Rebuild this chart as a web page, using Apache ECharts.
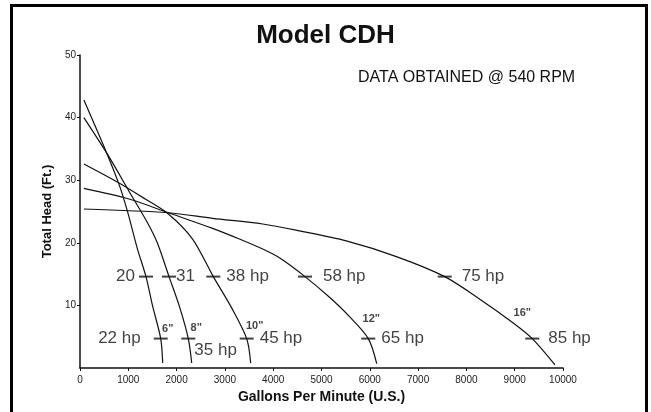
<!DOCTYPE html>
<html>
<head>
<meta charset="utf-8">
<script src="https://cdn.jsdelivr.net/npm/echarts@6/dist/echarts.min.js"></script>
<style>
  html, body { margin: 0; padding: 0; background: #fff; }
  #chart { width: 651px; height: 412px; }
</style>
</head>
<body>
<div id="chart"></div>
<script>
// Impeller sizes, one head/flow curve each
const impellers = ['6"', '8"', '10"', '12"', '16"'];

const flow6  = [80, 560, 810, 980, 1190, 1366, 1500, 1671, 1712];
const head6  = [42.8, 34.2, 29.3, 25.1, 19.0, 14.6, 10.0, 4.7, 0.8];

const flow8  = [80, 580, 1017, 1397, 1600, 1843, 2060, 2242, 2313];
const head8  = [40.0, 34.0, 28.2, 23.2, 20.0, 14.6, 9.8, 4.7, 0.8];

const flow10 = [80, 800, 1350, 1830, 2330, 2760, 3140, 3451, 3534];
const head10 = [32.6, 29.6, 27.0, 24.6, 20.6, 14.6, 9.6, 4.7, 0.8];

const flow12 = [80, 1017, 1830, 2745, 3300, 3782, 4129, 4658, 5166, 5581, 5969, 6143];
const head12 = [28.7, 27.0, 24.8, 22.3, 20.6, 19.0, 17.6, 14.6, 11.3, 8.2, 4.7, 0.7];

const flow16 = [80, 1830, 2745, 3782, 4544, 5512, 6550, 7551, 8278, 8970, 9364, 9834];
const head16 = [25.4, 24.8, 23.9, 23.0, 21.9, 20.3, 17.8, 14.6, 11.0, 7.2, 4.7, 0.5];

// Power marks on each curve
const upperHead = 14.6;
const upperFlow = [1366, 1843, 2760, 4658, 7551];
const upperPower = ['20', '31', '38 hp', '58 hp', '75 hp'];

const lowerHead = 4.7;
const lowerFlow = [1671, 2242, 3451, 5969, 9364];
const lowerPower = ['22 hp', '35 hp', '45 hp', '65 hp', '85 hp'];

// Axes
const flowMin = 0, flowMax = 10000, flowStep = 1000;
const headMin = 0, headMax = 50, headStep = 10;

const FONT = '"Liberation Sans", Arial, Helvetica, sans-serif';

// Label placement next to each power mark
const upperLabelPos = [
  { position: 'left', distance: 4 },
  { position: 'right', distance: 0 },
  { position: 'right', distance: 6 },
  { position: 'right', distance: 11 },
  { position: 'right', distance: 10 }
];
const lowerLabelPos = [
  { position: 'left', distance: 13 },
  { position: 'right', distance: 0, offset: [-1, 12] },
  { position: 'right', distance: 6 },
  { position: 'right', distance: 6 },
  { position: 'right', distance: 9 }
];
const sizeLabelOffset = [[7, -10], [8, -11], [8, -13], [3, -20], [-10, -26]];

const curves = [
  [flow6, head6], [flow8, head8], [flow10, head10], [flow12, head12], [flow16, head16]
];

const lineSeries = curves.map(([f, h], i) => ({
  name: impellers[i],
  type: 'line',
  data: f.map((x, k) => [x, h[k]]),
  smooth: 0.3,
  showSymbol: false,
  silent: true,
  lineStyle: { color: '#111', width: 1.2 },
  z: 3
}));

const hpLabel = {
  show: true,
  color: '#111',
  fontFamily: FONT,
  fontSize: 17,
  verticalAlign: 'middle'
};

const markSeries = (flows, head, texts, placement) => ({
  type: 'scatter',
  symbol: 'rect',
  symbolSize: [14, 2],
  itemStyle: { color: '#111' },
  silent: true,
  z: 4,
  data: flows.map((x, i) => ({
    value: [x, head],
    label: Object.assign({}, hpLabel, placement[i], { formatter: texts[i] })
  }))
});

const sizeSeries = {
  type: 'scatter',
  symbolSize: 0,
  silent: true,
  z: 4,
  data: lowerFlow.map((x, i) => ({
    value: [x, lowerHead],
    label: {
      show: true,
      position: 'inside',
      offset: sizeLabelOffset[i],
      formatter: impellers[i],
      color: '#111',
      fontFamily: FONT,
      fontWeight: 'bold',
      fontSize: 11
    }
  }))
};

const chart = echarts.init(document.getElementById('chart'), null, { renderer: 'canvas' });

chart.setOption({
  animation: false,
  backgroundColor: '#fff',
  title: {
    text: 'Model CDH',
    left: 'center',
    top: 18,
    textStyle: { fontFamily: FONT, fontSize: 26, fontWeight: 'bold', color: '#111' }
  },
  graphic: [
    {
      type: 'rect',
      shape: { x: 11.5, y: 5.5, width: 635, height: 430 },
      style: { fill: 'none', stroke: '#000', lineWidth: 3 },
      silent: true
    },
    {
      type: 'text',
      left: 358,
      top: 70,
      style: {
        text: 'DATA OBTAINED @ 540 RPM',
        fontFamily: FONT,
        fontSize: 16,
        fill: '#111'
      },
      silent: true
    }
  ],
  grid: { left: 80, right: 88, top: 55, bottom: 44 },
  xAxis: {
    type: 'value',
    min: flowMin,
    max: flowMax,
    interval: flowStep,
    name: 'Gallons Per Minute (U.S.)',
    nameLocation: 'middle',
    nameGap: 22,
    nameTextStyle: { fontFamily: FONT, fontSize: 14, fontWeight: 'bold', color: '#111' },
    axisLine: { lineStyle: { color: '#111', width: 1.5 } },
    axisTick: { show: true, length: 3, lineStyle: { color: '#111' } },
    axisLabel: {
      fontFamily: FONT, fontSize: 10, color: '#222', margin: 7,
      formatter: v => String(v)
    },
    splitLine: { show: false }
  },
  yAxis: {
    type: 'value',
    min: headMin,
    max: headMax,
    interval: headStep,
    name: 'Total Head (Ft.)',
    nameLocation: 'middle',
    nameGap: 23,
    nameRotate: 90,
    nameTextStyle: { fontFamily: FONT, fontSize: 13, fontWeight: 'bold', color: '#111' },
    axisLine: { show: true, lineStyle: { color: '#111', width: 1.5 } },
    axisTick: { show: true, length: 3, lineStyle: { color: '#111' } },
    axisLabel: { fontFamily: FONT, fontSize: 10, color: '#222', margin: 4, showMinLabel: false },
    splitLine: { show: false }
  },
  series: [
    ...lineSeries,
    markSeries(upperFlow, upperHead, upperPower, upperLabelPos),
    markSeries(lowerFlow, lowerHead, lowerPower, lowerLabelPos),
    sizeSeries
  ]
});
</script>
</body>
</html>
